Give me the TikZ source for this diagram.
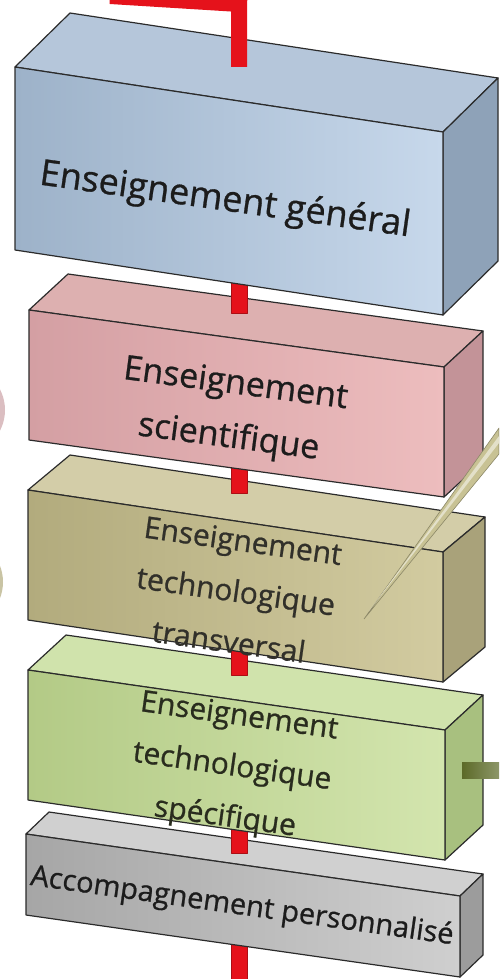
\documentclass[tikz,border=0pt]{standalone}
\usepackage{fontspec}
\setmainfont{Open Sans}[FakeBold=0.8]
\usepackage{tikz}
\definecolor{edge}{HTML}{2B2B2B}
\definecolor{ink}{HTML}{1C1C1C}
\definecolor{wire}{HTML}{E5121B}
\definecolor{gentop}{HTML}{B5C6DA}
\definecolor{genfl}{HTML}{9DB2C9}
\definecolor{genfr}{HTML}{C7D8EB}
\definecolor{genside}{HTML}{8EA2B8}
\definecolor{scitop}{HTML}{DDB0B0}
\definecolor{scifl}{HTML}{D49FA3}
\definecolor{scifr}{HTML}{EDBDBE}
\definecolor{sciside}{HTML}{C39398}
\definecolor{etttop}{HTML}{D3CDA8}
\definecolor{ettfl}{HTML}{B2AB7D}
\definecolor{ettfr}{HTML}{D2CBA0}
\definecolor{ettside}{HTML}{A9A27A}
\definecolor{etstop}{HTML}{D0E3AC}
\definecolor{etsfl}{HTML}{B3CA86}
\definecolor{etsfr}{HTML}{D3E5AE}
\definecolor{etsside}{HTML}{A8C07F}
\definecolor{acctop}{HTML}{D0D0D0}
\definecolor{accfl}{HTML}{A6A6A6}
\definecolor{accfr}{HTML}{CFCFCF}
\definecolor{accside}{HTML}{9C9C9C}
\definecolor{pencil}{HTML}{C8C294}
\definecolor{stub}{HTML}{5C6A28}

\begin{document}
\begin{tikzpicture}[x=0.5pt, y=-0.5pt, line join=round,
    face/.style={draw=edge, line width=0.6pt},
    wireseg/.style={fill=wire, draw=wire!75!black, line width=0.3pt},
    label/.style={align=center, text=ink, inner sep=0pt}]
  \useasboundingbox (0,0) rectangle (499,979);
  \clip (0,0) rectangle (499,979);
  % faint shapes cut by the left edge
  \fill[sciside!60] (-40,410) circle (45);
  \fill[ettfl!70] (-42,582) circle (45);
  % red wire under the last box
  \filldraw[wireseg] (231,930) rectangle (247,985);
  % boxes, from the bottom up
  \foreach \lx/\ty/\rx/\ry/\h/\dx/\dy/\col/\ra/\rb in {
      26/834/460/896/81/23/-22/acc/815/853,
      28/670/445/730/130/38/-35/ets/640/675,
      28/490/443/552/130/42/-35/ett/458/493,
      29/310/444/367/130/39/-36/sci/270/313,
      15/67/443/132/183/55/-54/gen/0/0}
  {
    \filldraw[face, fill=\col top] (\lx,\ty) -- ++(\dx,\dy) -- (\rx+\dx,\ry+\dy) -- (\rx,\ry) -- cycle;
    \filldraw[face, fill=\col side] (\rx,\ry) -- ++(\dx,\dy) -- (\rx+\dx,\ry+\h+\dy) -- (\rx,\ry+\h) -- cycle;
    \path[face, left color=\col fl, right color=\col fr] (\lx,\ty) -- (\rx,\ry) -- (\rx,\ry+\h) -- (\lx,\ty+\h) -- cycle;
    \filldraw[wireseg] (231,\ra) rectangle (247,\rb);
  }
  % red wire into the top box
  \draw[wire, line width=8pt, line join=miter] (110,-4) -- (239,4) -- (239,67);
  % labels
  \node[label, font=\fontsize{18}{22}\selectfont, rotate=-8] (gen) at (225,201) {Enseignement général};
  \node[label, font=\fontsize{17}{27}\selectfont, rotate=-7.5] (sci) at (232,412) {Enseignement\\scientifique};
  \node[label, font=\fontsize{15}{25.5}\selectfont, rotate=-8, text=ink!85!ettside] (ett) at (236,591) {Enseignement\\technologique\\transversal};
  \node[label, font=\fontsize{15}{25.5}\selectfont, rotate=-8, text=ink!80!stub] (ets) at (232,768) {Enseignement\\technologique\\spécifique};
  \node[label, font=\fontsize{14.5}{16}\selectfont, rotate=-8] (acc) at (242,907) {Accompagnement personnalisé};
  % rod out of the green box
  \path[left color=stub, right color=stub!70!white] (462,762) rectangle (499,778);
  % pencil across the olive box
  \filldraw[fill=pencil, draw=pencil!70!black, line width=0.3pt] (364,619) -- (499,428) -- (499,454) -- cycle;
  \fill[pencil!50!white] (369,611) -- (499,436) -- (499,443) -- cycle;
\end{tikzpicture}
\end{document}
